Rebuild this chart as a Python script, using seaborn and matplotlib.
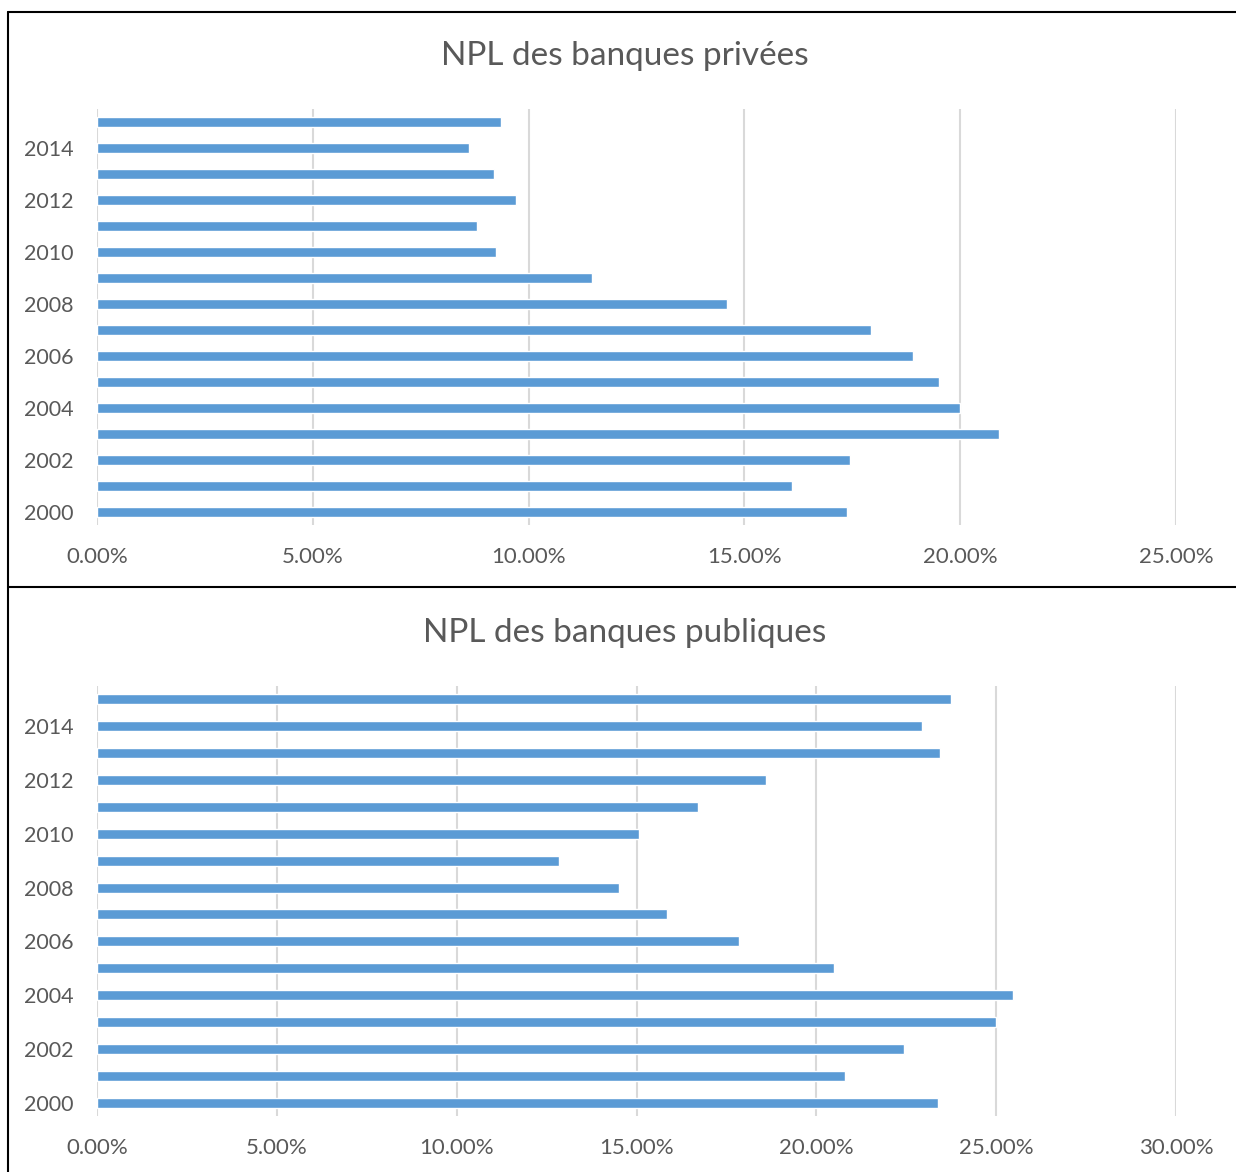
import matplotlib
matplotlib.use("Agg")
import matplotlib.pyplot as plt
import seaborn as sns
import pandas as pd
from matplotlib.ticker import PercentFormatter, MultipleLocator
from matplotlib.lines import Line2D

years = [2015, 2014, 2013, 2012, 2011, 2010, 2009, 2008,
         2007, 2006, 2005, 2004, 2003, 2002, 2001, 2000]
npl_privees = [9.36, 8.62, 9.20, 9.71, 8.80, 9.24, 11.47, 14.60,
               17.93, 18.91, 19.51, 20.00, 20.90, 17.45, 16.10, 17.38]
npl_publiques = [23.74, 22.94, 23.44, 18.60, 16.71, 15.07, 12.84, 14.51,
                 15.85, 17.85, 20.49, 25.47, 24.99, 22.44, 20.80, 23.38]
titles = ["NPL des banques privées", "NPL des banques publiques"]
xmaxes = [25, 30]

sns.set_theme(style="white")
plt.rcParams['font.family'] = ['Lato', 'DejaVu Sans']

W, H = 1236, 1172
fig = plt.figure(figsize=(W / 100, H / 100), dpi=100)
fig.patch.set_facecolor("white")

bar_color = "#5B9BD5"
text_color = "#595959"
grid_color = "#D9D9D9"

order = [str(y) for y in years]
axes_px = [(97, 109, 1176, 525), (97, 686, 1176, 1116)]
title_y = [56, 633]

for i, (vals, title, xmax) in enumerate(zip([npl_privees, npl_publiques], titles, xmaxes)):
    x0, y0, x1, y1 = axes_px[i]
    ax = fig.add_axes([x0 / W, 1 - y1 / H, (x1 - x0) / W, (y1 - y0) / H])
    df = pd.DataFrame({"year": order, "npl": vals})
    sns.barplot(data=df, x="npl", y="year", order=order, color=bar_color,
                saturation=1, width=0.37, ax=ax, orient="h")
    ax.set_xlim(0, xmax)
    ax.xaxis.set_major_locator(MultipleLocator(5))
    ax.xaxis.set_major_formatter(PercentFormatter(xmax=100, decimals=2))
    ax.grid(axis="x", color=grid_color, linewidth=1.5)
    ax.grid(axis="y", visible=False)
    ax.set_axisbelow(True)
    for s in ax.spines.values():
        s.set_visible(False)
    ax.set_xlabel("")
    ax.set_ylabel("")
    ax.set_yticks(range(len(order)))
    ax.set_yticklabels([o if int(o) % 2 == 0 else "" for o in order])
    ax.tick_params(axis="y", length=0, pad=17, labelsize=15.5, labelcolor=text_color)
    ax.tick_params(axis="x", length=0, pad=16, labelsize=16, labelcolor=text_color)
    ax.set_ylim(len(order) - 0.5, -0.5)
    fig.text(625 / W, 1 - title_y[i] / H, title, ha="center", va="center",
             fontsize=24, color=text_color)

# border lines
lw = 1.5
def line(xa, ya, xb, yb):
    fig.add_artist(Line2D([xa / W, xb / W], [1 - ya / H, 1 - yb / H],
                          color="black", linewidth=lw, transform=fig.transFigure))
line(8, 12, W, 12)
line(8, 12, 8, H)
line(8, 587, W, 587)

fig.savefig("out.png", dpi=100, facecolor="white")
